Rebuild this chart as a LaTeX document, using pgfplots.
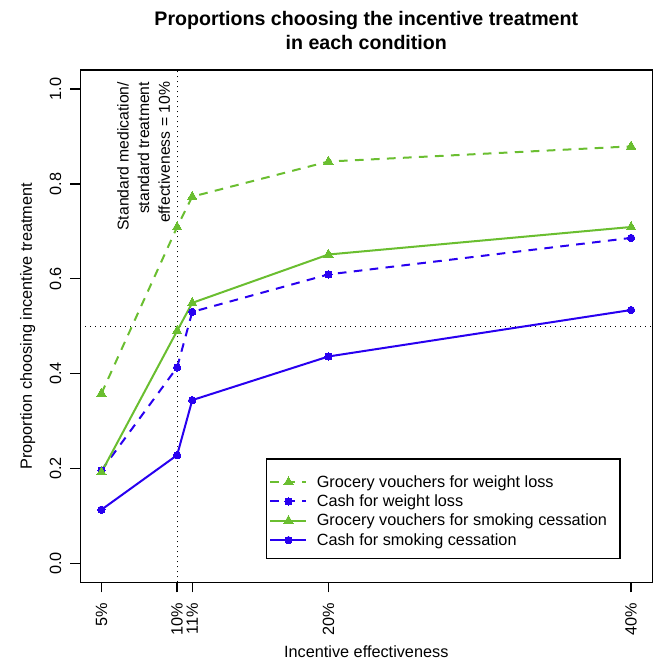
\documentclass[border=0pt]{standalone}
\usepackage{fontspec}
\setmainfont{Liberation Sans}
\usepackage{pgfplots}
\pgfplotsset{compat=1.18}
\definecolor{cgreen}{RGB}{106,190,48}
\definecolor{cblue}{RGB}{40,0,240}
\begin{document}
\begin{tikzpicture}
\begin{axis}[
  scale only axis,
  width=429pt, height=384.2pt,
  xmin=3.6, xmax=41.4, ymin=-0.04, ymax=1.04,
  axis line style={line width=1.1pt},
  xtick={5,10,11,20,40},
  xticklabels={5\%,10\%,11\%,20\%,40\%},
  ytick={0,0.2,0.4,0.6,0.8,1.0},
  yticklabels={0.0,0.2,0.4,0.6,0.8,1.0},
  tick align=outside,
  xtick pos=bottom, ytick pos=left,
  major tick length=7.5pt,
  every tick/.style={black, line width=1.1pt},
  tick label style={font=\fontsize{12.2}{14}\selectfont},
  xticklabel style={rotate=90, anchor=east, inner sep=0pt},
  yticklabel style={rotate=90, anchor=south, inner sep=0pt},
  xticklabel shift=8pt,
  yticklabel shift=6.5pt,
  xlabel={Incentive effectiveness},
  ylabel={Proportion choosing incentive treatment},
  label style={font=\fontsize{12.2}{14}\selectfont},
  xlabel style={at={(axis description cs:0.5,-0.1478)}, anchor=base, inner sep=0pt},
  ylabel style={at={(axis description cs:-0.0844,0.5)}, anchor=base, inner sep=0pt},
  legend cell align=left,
  legend style={name=leg, at={(axis description cs:0.926,0.0468)}, anchor=south east,
    draw=none, fill=none, font=\fontsize{12.2}{14}\selectfont,
    inner xsep=2pt, inner ysep=8.25pt, row sep=4.15pt, column sep=7pt,
    nodes={inner sep=0pt}},
  legend image code/.code={\draw[mark repeat=2,mark phase=2,#1] plot coordinates {(0pt,0pt) (13.5pt,0pt) (27pt,0pt)};},
]
\addplot[forget plot, black, line width=0.75pt, dash pattern=on 0.9pt off 2.85pt] coordinates {(10,-0.04) (10,1.04)};
\addplot[forget plot, black, line width=0.75pt, dash pattern=on 0.9pt off 2.85pt] coordinates {(3.6,0.5) (41.4,0.5)};

\addplot[cgreen, line width=1.5pt, dash pattern=on 6.5pt off 5.5pt, mark=triangle*, mark size=4pt, mark options={solid, fill=cgreen, draw=cgreen, line width=0pt}]
  coordinates {(5,0.358) (10,0.709) (11,0.773) (20,0.847) (40,0.879)};
\addlegendentry{Grocery vouchers for weight loss}
\addplot[cblue, line width=1.5pt, dash pattern=on 6.5pt off 5.5pt, mark=*, mark size=2.75pt, mark options={solid, fill=cblue, draw=cblue, line width=0pt}]
  coordinates {(5,0.196) (10,0.413) (11,0.530) (20,0.609) (40,0.686)};
\addlegendentry{Cash for weight loss}
\addplot[cgreen, line width=1.5pt, mark=triangle*, mark size=4pt, mark options={solid, fill=cgreen, draw=cgreen, line width=0pt}]
  coordinates {(5,0.192) (10,0.490) (11,0.549) (20,0.651) (40,0.709)};
\addlegendentry{Grocery vouchers for smoking cessation}
\addplot[cblue, line width=1.5pt, mark=*, mark size=2.75pt, mark options={solid, fill=cblue, draw=cblue, line width=0pt}]
  coordinates {(5,0.113) (10,0.228) (11,0.344) (20,0.436) (40,0.534)};
\addlegendentry{Cash for smoking cessation}

\node[rotate=90, anchor=south east, align=right, inner sep=0pt, font=\fontsize{11.8}{15.5}\selectfont]
  at (axis cs:9.55,1.0154) {Standard medication/\\standard treatment\\effectiveness = 10\%};
\coordinate (sw) at (rel axis cs:0,0);
\coordinate (ne) at (rel axis cs:1,1);
\coordinate (tc) at (rel axis cs:0.5,1);
\end{axis}
\draw[black, line width=1.1pt] ([yshift=3.75pt]leg.north west) rectangle ([xshift=7.5pt]leg.south east);
\node[anchor=base, inner sep=0pt, font=\fontsize{14.7}{17}\selectfont\bfseries] at ([yshift=33pt]tc) {Proportions choosing the incentive treatment};
\node[anchor=base, inner sep=0pt, font=\fontsize{14.7}{17}\selectfont\bfseries] at ([yshift=15pt]tc) {in each condition};
\pgfresetboundingbox
\path[use as bounding box] ([xshift=-60.2pt,yshift=-59.8pt]sw) rectangle ([xshift=5pt,yshift=52.5pt]ne);
\end{tikzpicture}
\end{document}
